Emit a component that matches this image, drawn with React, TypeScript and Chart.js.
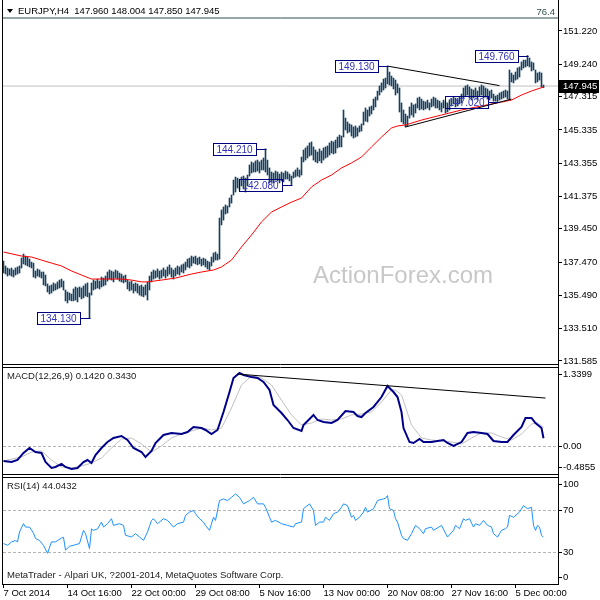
import { useEffect, useRef } from "react";
import { Chart, registerables } from "chart.js";

Chart.register(...registerables);

// ---------------- data ----------------
const SYMBOL_TITLE = "EURJPY,H4";
const OHLC_LAST = ["147.960", "148.004", "147.850", "147.945"];
const LAST_CLOSE = 147.945;

// bar-by-bar highs / lows (H4 bars, index 0 = 7 Oct 2014)
const HIGHS = [
  137.53, 137.24, 137.12, 137.06, 137.12, 137.00, 137.12, 137.18, 137.24, 137.71,
  137.95, 137.83, 137.77, 137.65, 137.47, 137.41, 136.94, 137.06, 137.00, 136.88,
  136.88, 136.70, 136.17, 136.05, 136.11, 136.23, 136.17, 136.29, 136.40, 136.46,
  136.34, 135.81, 135.69, 135.63, 135.57, 135.87, 135.99, 135.93, 135.99, 135.93,
  136.05, 136.17, 136.23, 135.63, 136.23, 136.40, 136.34, 136.46, 136.34, 136.58,
  136.52, 136.64, 136.88, 137.00, 136.94, 136.88, 137.00, 136.94, 136.82, 136.76,
  136.64, 136.70, 136.40, 136.29, 136.34, 136.17, 136.23, 136.17, 136.05, 136.11,
  135.99, 136.11, 136.29, 136.64, 136.88, 137.00, 136.94, 137.06, 136.94, 137.00,
  137.12, 137.00, 137.18, 137.30, 137.12, 137.00, 137.12, 137.24, 137.18, 137.30,
  137.36, 137.47, 137.65, 137.71, 137.83, 137.77, 137.83, 137.71, 137.77, 137.65,
  137.71, 137.65, 137.53, 137.47, 137.77, 138.01, 138.07, 137.95, 140.09, 140.57,
  140.75, 140.87, 140.81, 141.28, 141.46, 142.35, 142.53, 142.47, 142.41, 142.53,
  142.59, 142.47, 142.65, 143.25, 143.43, 143.37, 143.49, 143.54, 143.43, 143.54,
  143.66, 144.21, 143.54, 143.07, 142.83, 142.77, 142.89, 142.83, 142.71, 142.83,
  142.77, 142.89, 142.83, 142.71, 142.59, 142.83, 142.95, 143.07, 142.95, 143.72,
  144.14, 144.26, 144.38, 144.56, 144.62, 144.32, 144.14, 144.02, 144.20, 144.08,
  144.26, 144.32, 144.38, 144.56, 144.67, 144.62, 144.73, 144.91, 145.03, 144.97,
  146.52, 146.04, 145.81, 145.69, 145.63, 145.51, 145.57, 145.45, 145.57, 145.69,
  146.40, 146.64, 146.52, 146.70, 146.76, 147.17, 147.29, 147.65, 147.95, 148.13,
  148.36, 148.42, 149.13, 148.78, 148.54, 148.42, 148.30, 148.07, 147.83, 146.94,
  146.52, 146.28, 146.16, 146.70, 146.94, 146.82, 146.88, 147.23, 147.29, 147.17,
  147.05, 147.00, 147.11, 146.94, 147.17, 147.29, 147.23, 147.11, 147.05, 146.94,
  147.11, 147.00, 146.94, 147.11, 147.17, 147.29, 147.23, 147.11, 147.29, 147.47,
  147.83, 147.95, 148.01, 147.89, 147.77, 147.71, 147.83, 147.65, 147.89, 148.01,
  147.95, 147.83, 147.77, 147.65, 147.71, 147.47, 147.35, 147.41, 147.53, 147.59,
  147.65, 147.71, 147.65, 148.90, 148.72, 148.60, 148.78, 149.02, 149.08, 149.38,
  149.49, 149.49, 149.76, 149.61, 149.38, 149.32, 148.90, 148.72, 148.78, 148.72,
  148.004,
];
const LOWS = [
  136.82, 136.76, 136.64, 136.70, 136.64, 136.58, 136.70, 136.76, 136.82, 137.12,
  137.36, 137.30, 137.24, 137.18, 137.12, 136.58, 136.52, 136.64, 136.58, 136.52,
  136.11, 136.05, 135.69, 135.57, 135.63, 135.75, 135.81, 135.87, 135.93, 135.99,
  135.81, 135.16, 135.04, 135.21, 135.16, 135.16, 135.21, 135.10, 135.40, 135.28,
  135.34, 135.45, 135.40, 134.13, 135.51, 135.81, 135.87, 135.93, 135.87, 135.99,
  136.05, 136.11, 136.34, 136.46, 136.40, 136.29, 136.52, 136.46, 136.34, 136.29,
  136.23, 136.29, 135.87, 135.75, 135.81, 135.63, 135.75, 135.63, 135.51, 135.45,
  135.40, 135.51, 135.21, 135.81, 136.29, 136.46, 136.52, 136.58, 136.46, 136.52,
  136.64, 136.52, 136.64, 136.76, 136.58, 136.46, 136.64, 136.76, 136.70, 136.88,
  136.82, 137.00, 137.18, 137.12, 137.24, 137.41, 137.36, 137.30, 137.36, 137.24,
  137.30, 137.18, 137.06, 137.00, 137.24, 137.47, 137.59, 137.59, 137.65, 139.68,
  139.97, 140.33, 140.39, 140.75, 140.98, 141.46, 141.64, 141.88, 141.76, 142.00,
  141.82, 141.64, 142.00, 142.59, 142.77, 142.83, 142.83, 142.89, 142.77, 142.95,
  142.95, 142.83, 142.65, 142.18, 142.24, 142.18, 142.35, 142.30, 142.18, 142.30,
  142.24, 142.41, 142.41, 142.30, 142.08, 142.47, 142.53, 142.59, 142.53, 142.65,
  143.43, 143.54, 143.66, 143.78, 143.84, 143.54, 143.43, 143.37, 143.49, 143.37,
  143.54, 143.66, 143.72, 143.84, 143.96, 143.90, 143.96, 144.26, 144.32, 144.32,
  144.91, 145.33, 145.15, 145.21, 144.97, 144.85, 144.91, 144.97, 145.21, 145.27,
  145.63, 145.86, 145.81, 146.16, 146.28, 146.52, 146.70, 147.11, 147.41, 147.59,
  147.71, 147.83, 148.07, 148.01, 147.95, 147.77, 147.41, 147.53, 146.40, 145.81,
  145.69, 145.51, 145.57, 146.04, 146.22, 146.10, 146.34, 146.64, 146.52, 146.58,
  146.52, 146.58, 146.64, 146.52, 146.70, 146.76, 146.64, 146.64, 146.52, 146.40,
  146.64, 146.34, 146.40, 146.52, 146.76, 146.88, 146.70, 146.76, 146.88, 146.94,
  147.23, 147.35, 147.41, 147.23, 147.11, 147.23, 147.29, 147.11, 147.35, 147.41,
  147.23, 147.29, 147.17, 147.11, 147.23, 147.05, 147.05, 147.02, 147.11, 147.17,
  147.23, 147.29, 147.17, 147.11, 148.19, 148.13, 148.30, 148.36, 148.48, 148.90,
  149.02, 149.08, 149.14, 149.08, 148.84, 148.90, 148.13, 148.19, 148.30, 147.89,
  147.85,
];

// red moving average
const MA_BARS = [0, 9, 14, 19, 24, 29, 34, 39, 44, 49, 59, 64, 69, 72, 79, 86, 94, 99, 105, 109, 114, 119, 124, 129, 134, 139, 144, 149, 154, 159, 164, 169, 174, 179, 184, 189, 194, 197, 201, 209, 219, 229, 239, 249, 254, 259, 264, 270];
const MA_VALUES = [138.07, 137.83, 137.77, 137.59, 137.41, 137.24, 136.94, 136.70, 136.46, 136.46, 136.46, 136.40, 136.29, 136.29, 136.40, 136.52, 136.76, 136.88, 137.00, 137.18, 137.59, 138.37, 139.08, 139.86, 140.45, 140.75, 141.04, 141.28, 141.94, 142.35, 142.65, 143.07, 143.37, 143.72, 144.32, 144.91, 145.45, 145.57, 145.63, 145.92, 146.22, 146.52, 146.76, 146.99, 147.11, 147.41, 147.65, 147.89];

// trend lines on price
const TREND_UPPER_BARS = [192, 248];
const TREND_UPPER_PRICES = [149.13, 147.97];
const TREND_LOWER_BARS = [201, 254];
const TREND_LOWER_PRICES = [145.51, 147.17];

// swing labels
const NOTE_BARS = [192, 262, 247, 131, 144, 43];
const NOTE_PRICES = [149.13, 149.76, 147.02, 144.21, 142.08, 134.13];

const FIB_LEVEL = 151.993;
const FIB_LABEL = "76.4";
const WATERMARK = "ActionForex.com";

const PRICE_TICKS = [131.585, 133.51, 135.49, 137.47, 139.45, 141.375, 143.355, 145.335, 147.315, 149.24, 151.22];
const PRICE_MIN = 131.406;
const PRICE_MAX = 153.005;

// MACD(12,26,9)
const MACD_TITLE = "MACD(12,26,9) 0.1420 0.3430";
const MACD_BARS = [0, 4, 7, 10, 13, 16, 19, 21, 24, 26, 29, 31, 34, 37, 40, 42, 44, 46, 49, 52, 55, 59, 62, 65, 69, 71, 74, 76, 80, 84, 89, 92, 95, 99, 101, 104, 107, 110, 113, 115, 118, 120, 124, 127, 130, 133, 135, 139, 142, 145, 149, 150, 155, 157, 160, 164, 167, 171, 175, 177, 179, 181, 185, 189, 192, 195, 197, 199, 200, 203, 205, 208, 210, 214, 217, 220, 222, 225, 229, 232, 235, 239, 242, 245, 249, 252, 255, 259, 261, 264, 266, 269, 270];
const MACD_MAIN = [-0.275, -0.294, -0.257, -0.128, -0.037, -0.110, -0.128, -0.294, -0.404, -0.385, -0.330, -0.385, -0.422, -0.404, -0.294, -0.257, -0.312, -0.165, -0.037, 0.073, 0.147, 0.184, 0.110, -0.037, -0.110, -0.202, -0.092, 0.055, 0.202, 0.239, 0.220, 0.257, 0.349, 0.330, 0.294, 0.220, 0.294, 0.624, 0.991, 1.248, 1.340, 1.303, 1.267, 1.248, 1.175, 1.028, 0.753, 0.606, 0.477, 0.330, 0.275, 0.385, 0.569, 0.477, 0.441, 0.422, 0.477, 0.642, 0.624, 0.551, 0.532, 0.606, 0.716, 0.899, 1.101, 0.991, 0.899, 0.624, 0.330, 0.073, 0.055, 0.128, 0.073, 0.073, 0.092, 0.110, 0.055, 0.000, 0.073, 0.239, 0.257, 0.239, 0.220, 0.092, 0.073, 0.073, 0.202, 0.349, 0.514, 0.514, 0.422, 0.330, 0.142];
const SIGNAL_BARS = [0, 9, 14, 19, 24, 29, 34, 39, 44, 49, 54, 59, 64, 69, 74, 79, 84, 89, 94, 99, 104, 109, 114, 119, 124, 129, 134, 139, 144, 149, 154, 159, 164, 169, 174, 179, 184, 189, 194, 196, 199, 204, 209, 214, 219, 224, 229, 234, 239, 244, 249, 254, 259, 264, 267, 270];
const SIGNAL_VALUES = [-0.275, -0.202, -0.110, -0.092, -0.257, -0.385, -0.404, -0.367, -0.312, -0.220, -0.037, 0.128, 0.147, 0.037, -0.110, 0.000, 0.147, 0.220, 0.275, 0.330, 0.294, 0.330, 0.698, 1.120, 1.285, 1.248, 1.120, 0.844, 0.569, 0.385, 0.422, 0.496, 0.477, 0.496, 0.569, 0.587, 0.624, 0.808, 1.028, 1.028, 0.936, 0.385, 0.147, 0.110, 0.092, 0.073, 0.037, 0.147, 0.239, 0.239, 0.165, 0.110, 0.220, 0.404, 0.422, 0.343];
const MACD_TREND_BARS = [117, 271];
const MACD_TREND_VALUES = [1.32, 0.88];
const MACD_MIN = -0.514;
const MACD_MAX = 1.4317;
const MACD_LEVELS = [0];
const MACD_AXIS_VALUES = [1.3399, 0, -0.4855];
const MACD_AXIS_TEXT = ["1.3399", "0.00", "-0.4855"];

// RSI(14)
const RSI_TITLE = "RSI(14) 44.0432";
const RSI_BARS = [0, 2, 4, 6, 7, 8, 10, 11, 13, 15, 16, 18, 20, 22, 24, 26, 29, 30, 31, 33, 35, 38, 40, 41, 43, 44, 45, 47, 49, 50, 52, 54, 55, 58, 60, 61, 64, 66, 68, 70, 72, 74, 75, 77, 80, 82, 85, 87, 90, 91, 93, 95, 96, 98, 100, 101, 103, 105, 106, 108, 110, 112, 114, 116, 118, 120, 123, 125, 127, 130, 131, 134, 136, 139, 142, 145, 146, 149, 150, 153, 155, 156, 158, 160, 161, 163, 165, 167, 169, 170, 172, 174, 175, 176, 178, 180, 181, 182, 185, 187, 190, 191, 192, 193, 195, 196, 197, 199, 200, 202, 204, 206, 208, 210, 211, 214, 215, 219, 222, 225, 226, 228, 230, 231, 233, 235, 236, 238, 240, 242, 244, 245, 247, 249, 251, 252, 253, 255, 258, 260, 262, 264, 265, 266, 267, 268, 269, 270];
const RSI_VALUES = [38.2, 36.5, 39.7, 41, 39.7, 49, 57, 53.7, 53.7, 48, 43, 41, 36.5, 29, 39.7, 39.7, 43.4, 44, 32, 35.6, 36.5, 38.2, 50.6, 47.5, 33.4, 52, 50.6, 52, 58.4, 53.7, 56.9, 61.6, 55.3, 56.9, 55.3, 46, 44.3, 47.5, 44.3, 41.2, 49, 60, 61.6, 56.9, 61.6, 60, 53.7, 56.9, 58.4, 64.7, 67.8, 69.4, 66.3, 61.6, 58.4, 55.3, 50.6, 63, 60, 78.7, 80.3, 78.7, 81.8, 85, 81.8, 75.6, 78.7, 81.8, 75.6, 75.6, 72.4, 58.4, 60, 56.9, 55.3, 53.7, 56.9, 58.4, 71, 75.6, 69.4, 55.3, 58.4, 58.4, 63, 60, 66.3, 67.8, 72.4, 75.6, 74, 63, 64.7, 60, 63, 67.8, 72.4, 67.8, 71, 78.7, 80.3, 81, 83.4, 71, 69.4, 61.6, 58.4, 46, 42.8, 41.2, 47.5, 55.3, 52.2, 47.5, 52.2, 53.7, 50.6, 55.3, 44.3, 50.6, 55.3, 52.2, 61.6, 60, 61.6, 53.7, 56.9, 55.3, 60, 55.3, 53.7, 47.5, 44.3, 50.6, 52.2, 53.7, 64.7, 63, 67.8, 74, 71, 72.4, 55.3, 50.6, 55.3, 53.7, 46, 44.04];
const RSI_LEVELS = [70, 30];
const RSI_AXIS_VALUES = [100, 70, 30, 0];
const RSI_AXIS_TEXT = ["100", "70", "30", "0"];
const FOOTER = "MetaTrader - Alpari UK, ?2001-2014, MetaQuotes Software Corp.";

// time axis
const TIME_TICK_BARS = [0, 32, 64, 96, 128, 160, 192, 224, 256];
const TIME_TICK_LABELS = ["7 Oct 2014", "14 Oct 16:00", "22 Oct 00:00", "29 Oct 08:00", "5 Nov 16:00", "13 Nov 00:00", "20 Nov 08:00", "27 Nov 16:00", "5 Dec 00:00"];

// ---------------- styling ----------------
const X_MIN = -0.25;
const X_MAX = 277.25;
const FONT = '"Liberation Sans", Arial, sans-serif';
const SMALL = 9.5;
const BAR_COLOR = "#1A405F";

Chart.defaults.font.family = FONT;

const pts = (xs: number[], ys: number[]) => xs.map((x, i) => ({ x, y: ys[i] }));

const lineDs = (data: any[], color: string, width: number, order: number) => ({
  type: "line",
  data,
  borderColor: color,
  borderWidth: width,
  pointRadius: 0,
  tension: 0,
  fill: false,
  order,
});

const hiddenX = () => ({ type: "linear", min: X_MIN, max: X_MAX, offset: false, display: false });

const subY = (min: number, max: number) => ({
  type: "linear",
  position: "right",
  min,
  max,
  grid: { display: false },
  border: { display: true, color: "#000" },
  ticks: { display: false },
  afterFit: (s: any) => {
    s.width = 42;
    s.paddingTop = 0;
    s.paddingBottom = 0;
  },
});

const baseOptions = (padding: any, scales: any) => ({
  responsive: false,
  animation: false,
  devicePixelRatio: 1,
  events: [],
  layout: { padding },
  plugins: { legend: { display: false }, tooltip: { enabled: false } },
  scales,
});

const mainOverlay = {
  id: "mainOverlay",
  beforeDatasetsDraw(chart: any) {
    const { ctx, chartArea: a } = chart;
    ctx.save();
    ctx.font = `24px ${FONT}`;
    ctx.fillStyle = "#C8C8C8";
    ctx.textAlign = "left";
    ctx.textBaseline = "alphabetic";
    ctx.fillText(WATERMARK, a.left + 310, 283);
    ctx.restore();
  },
  afterDraw(chart: any) {
    const { ctx, chartArea: a, scales } = chart;
    const xs = scales.x;
    const ys = scales.y;
    ctx.save();
    ctx.lineWidth = 1;
    ctx.strokeStyle = "#000";
    ctx.beginPath();
    ctx.moveTo(a.left - 0.5, 0);
    ctx.lineTo(a.left - 0.5, chart.height);
    ctx.moveTo(a.right + 0.5, 0);
    ctx.lineTo(a.right + 0.5, chart.height);
    ctx.moveTo(a.left - 1, a.bottom + 0.5);
    ctx.lineTo(a.right + 1, a.bottom + 0.5);
    ctx.stroke();

    // title
    ctx.fillStyle = "#000";
    ctx.beginPath();
    ctx.moveTo(a.left + 4, 9);
    ctx.lineTo(a.left + 10, 9);
    ctx.lineTo(a.left + 7, 13);
    ctx.closePath();
    ctx.fill();
    ctx.font = `${SMALL}px ${FONT}`;
    ctx.textAlign = "left";
    ctx.textBaseline = "middle";
    ctx.fillText(`${SYMBOL_TITLE}  ${OHLC_LAST.join(" ")}`, a.left + 15, 11.5);

    // fib label
    const fy = ys.getPixelForValue(FIB_LEVEL);
    ctx.fillStyle = "#2F4F4F";
    ctx.textAlign = "right";
    ctx.textBaseline = "bottom";
    ctx.fillText(FIB_LABEL, a.right - 3, fy - 1);

    // swing notes
    ctx.font = `10px ${FONT}`;
    NOTE_BARS.forEach((b, k) => {
      const px = Math.round(xs.getPixelForValue(b)) + 0.5;
      const py = Math.round(ys.getPixelForValue(NOTE_PRICES[k])) + 0.5;
      const text = NOTE_PRICES[k].toFixed(3);
      const w = Math.ceil(ctx.measureText(text).width) + 6;
      const h = 12;
      const right = px - 10;
      const left = right - w;
      ctx.strokeStyle = "#000080";
      ctx.strokeRect(left, py - h / 2, w, h);
      ctx.beginPath();
      ctx.moveTo(right, py);
      ctx.lineTo(px, py);
      ctx.stroke();
      ctx.fillStyle = "#3333BB";
      ctx.textAlign = "left";
      ctx.textBaseline = "middle";
      ctx.fillText(text, left + 3, py + 0.5);
    });

    // last price tag
    const cy = Math.round(ys.getPixelForValue(LAST_CLOSE));
    ctx.fillStyle = "#000";
    ctx.fillRect(a.right + 1, cy - 6, 40, 13);
    ctx.fillStyle = "#fff";
    ctx.font = `${SMALL}px ${FONT}`;
    ctx.textAlign = "left";
    ctx.textBaseline = "middle";
    ctx.fillText(LAST_CLOSE.toFixed(3), a.right + 5, cy + 0.5);
    ctx.restore();
  },
};

function subOverlay(id: string, title: string, levels: number[], axisValues: number[], axisText: string[], footer: string | null, last: boolean) {
  return {
    id,
    beforeDatasetsDraw(chart: any) {
      const { ctx, chartArea: a, scales } = chart;
      ctx.save();
      ctx.strokeStyle = "#B4B4B4";
      ctx.lineWidth = 1;
      ctx.setLineDash([3, 2]);
      levels.forEach((v) => {
        const y = Math.round(scales.y.getPixelForValue(v)) + 0.5;
        ctx.beginPath();
        ctx.moveTo(a.left, y);
        ctx.lineTo(a.right, y);
        ctx.stroke();
      });
      ctx.restore();
    },
    afterDraw(chart: any) {
      const { ctx, chartArea: a, scales } = chart;
      ctx.save();
      ctx.strokeStyle = "#000";
      ctx.lineWidth = 1;
      const bottom = last ? a.bottom + 1 : chart.height;
      ctx.beginPath();
      ctx.moveTo(a.left - 0.5, 0);
      ctx.lineTo(a.left - 0.5, bottom);
      ctx.moveTo(a.right + 0.5, 0);
      ctx.lineTo(a.right + 0.5, bottom);
      ctx.moveTo(a.left - 1, a.top - 0.5);
      ctx.lineTo(a.right + 1, a.top - 0.5);
      if (!last) {
        ctx.moveTo(a.left - 1, a.bottom + 0.5);
        ctx.lineTo(a.right + 1, a.bottom + 0.5);
      }
      ctx.stroke();

      ctx.font = `${SMALL}px ${FONT}`;
      ctx.fillStyle = "#1b1b1b";
      ctx.textAlign = "left";
      ctx.textBaseline = "middle";
      ctx.fillText(title, a.left + 4, a.top + 8);
      if (footer) ctx.fillText(footer, a.left + 4, a.bottom - 9);

      ctx.fillStyle = "#000";
      axisValues.forEach((v, k) => {
        let y = scales.y.getPixelForValue(v);
        y = Math.min(Math.max(y, a.top + 6), a.bottom - 7);
        const ry = Math.round(y) + 0.5;
        ctx.beginPath();
        ctx.moveTo(a.right + 1, ry);
        ctx.lineTo(a.right + 4, ry);
        ctx.stroke();
        ctx.fillText(axisText[k], a.right + 5, ry);
      });
      ctx.restore();
    },
  };
}

function mainConfig(): any {
  return {
    type: "line",
    data: {
      datasets: [
        lineDs([{ x: X_MIN, y: LAST_CLOSE }, { x: X_MAX, y: LAST_CLOSE }], "#C0C0C0", 1, 10),
        lineDs([{ x: X_MIN, y: FIB_LEVEL }, { x: X_MAX, y: FIB_LEVEL }], "#2F4F4F", 1, 9),
        {
          type: "bar",
          data: HIGHS.map((h, i) => ({ x: i, y: [LOWS[i], h] })),
          backgroundColor: BAR_COLOR,
          borderWidth: 0,
          barThickness: 1,
          order: 5,
        },
        lineDs(pts(MA_BARS, MA_VALUES), "#FF0000", 1, 4),
        lineDs(pts(TREND_UPPER_BARS, TREND_UPPER_PRICES), "#000", 1, 3),
        lineDs(pts(TREND_LOWER_BARS, TREND_LOWER_PRICES), "#000", 1, 2),
      ],
    },
    options: baseOptions(
      { left: 3, top: 1, right: 0, bottom: 2 },
      {
        x: hiddenX(),
        y: {
          type: "linear",
          position: "right",
          min: PRICE_MIN,
          max: PRICE_MAX,
          grid: { drawOnChartArea: false, drawTicks: true, tickLength: 4, color: "#000" },
          border: { display: true, color: "#000" },
          ticks: {
            padding: 1,
            crossAlign: "near",
            color: "#000",
            font: { family: FONT, size: SMALL },
            callback: (v: any) => Number(v).toFixed(3),
          },
          afterBuildTicks: (s: any) => {
            s.ticks = PRICE_TICKS.map((v) => ({ value: v }));
          },
          afterFit: (s: any) => {
            s.width = 42;
            s.paddingTop = 0;
            s.paddingBottom = 0;
          },
        },
      }
    ),
    plugins: [mainOverlay],
  };
}

function macdConfig(): any {
  return {
    type: "line",
    data: {
      datasets: [
        lineDs(pts(SIGNAL_BARS, SIGNAL_VALUES), "#C0C0C0", 1, 3),
        lineDs(pts(MACD_BARS, MACD_MAIN), "#00008B", 2, 2),
        lineDs(pts(MACD_TREND_BARS, MACD_TREND_VALUES), "#000", 1, 1),
      ],
    },
    options: baseOptions({ left: 3, top: 2, right: 0, bottom: 2 }, { x: hiddenX(), y: subY(MACD_MIN, MACD_MAX) }),
    plugins: [subOverlay("macdOverlay", MACD_TITLE, MACD_LEVELS, MACD_AXIS_VALUES, MACD_AXIS_TEXT, null, false)],
  };
}

function rsiConfig(): any {
  return {
    type: "line",
    data: {
      datasets: [lineDs(pts(RSI_BARS, RSI_VALUES), "#1E90FF", 1, 1)],
    },
    options: baseOptions(
      { left: 3, top: 2, right: 0, bottom: 0 },
      {
        x: {
          type: "linear",
          min: X_MIN,
          max: X_MAX,
          offset: false,
          grid: { display: true, drawOnChartArea: false, drawTicks: true, tickLength: 4, color: "#000" },
          border: { display: true, color: "#000" },
          ticks: {
            autoSkip: false,
            maxRotation: 0,
            minRotation: 0,
            align: "start",
            padding: 0,
            color: "#000",
            font: { family: FONT, size: SMALL },
            callback: (v: any) => {
              const k = TIME_TICK_BARS.indexOf(Number(v));
              return k >= 0 ? TIME_TICK_LABELS[k] : "";
            },
          },
          afterBuildTicks: (s: any) => {
            s.ticks = TIME_TICK_BARS.map((v) => ({ value: v }));
          },
          afterFit: (s: any) => {
            s.height = 16;
            s.paddingLeft = 0;
            s.paddingRight = 0;
          },
        },
        y: subY(0, 100),
      }
    ),
    plugins: [subOverlay("rsiOverlay", RSI_TITLE, RSI_LEVELS, RSI_AXIS_VALUES, RSI_AXIS_TEXT, FOOTER, true)],
  };
}

export default function App() {
  const mainRef = useRef<HTMLCanvasElement>(null);
  const macdRef = useRef<HTMLCanvasElement>(null);
  const rsiRef = useRef<HTMLCanvasElement>(null);

  useEffect(() => {
    const charts = [
      new Chart(mainRef.current as HTMLCanvasElement, mainConfig()),
      new Chart(macdRef.current as HTMLCanvasElement, macdConfig()),
      new Chart(rsiRef.current as HTMLCanvasElement, rsiConfig()),
    ];
    return () => charts.forEach((c) => c.destroy());
  }, []);

  return (
    <div style={{ position: "absolute", left: 0, top: 0, width: 600, height: 600, background: "#fff", overflow: "hidden" }}>
      <canvas ref={mainRef} width={600} height={366} style={{ position: "absolute", left: 0, top: 0 }} />
      <canvas ref={macdRef} width={600} height={110} style={{ position: "absolute", left: 0, top: 366 }} />
      <canvas ref={rsiRef} width={600} height={124} style={{ position: "absolute", left: 0, top: 476 }} />
    </div>
  );
}
